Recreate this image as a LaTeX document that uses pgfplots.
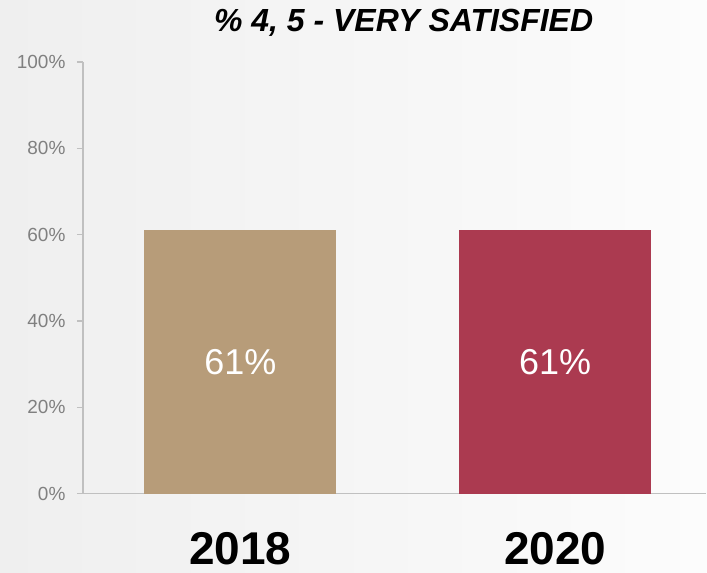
\documentclass[border=0pt]{standalone}
\usepackage{pgfplots}
\pgfplotsset{compat=1.18}
\usepackage{fontspec}
\setmainfont{Liberation Sans}
\definecolor{tanbar}{HTML}{B79C79}
\definecolor{redbar}{HTML}{AB3A50}
\definecolor{axgray}{HTML}{C0C0C0}
\definecolor{tickgray}{HTML}{808080}
\definecolor{bgleft}{HTML}{EFEFEF}
\definecolor{bgright}{HTML}{FCFCFC}

\begin{document}
\begin{tikzpicture}
\shade[left color=bgleft, right color=bgright] (0pt,0pt) rectangle (707pt,573pt);
\node[anchor=base, inner sep=0pt, font=\fontsize{32}{36}\selectfont\bfseries\itshape]
  at (404pt,541pt) {\% 4, 5 - VERY SATISFIED};
\begin{axis}[
	at={(83pt,79pt)}, anchor=south west,
	scale only axis, width=624pt, height=432pt,
	xmin=-0.5, xmax=1.48, ymin=0, ymax=100,
	axis x line=bottom, axis y line=left,
	axis line style={axgray, line width=1.3pt, -},
	ybar, bar width=0.61, bar shift=0pt,
	xtick={0,1}, xticklabels={2018,2020},
	major x tick style={draw=none},
	xticklabel style={anchor=center, inner sep=0pt, yshift=-49pt, text=black,
		font=\fontsize{46}{50}\selectfont\bfseries},
	ytick={0,20,...,100},
	yticklabel={\pgfmathprintnumber{\tick}\%},
	yticklabel style={text=tickgray, xshift=-8pt, font=\fontsize{19}{21}\selectfont},
	/pgf/number format/assume math mode=true,
	tick align=outside, major tick length=6pt,
	major y tick style={axgray, line width=1.3pt},
	nodes near coords={\pgfmathprintnumber{\pgfplotspointmeta}\%},
	every node near coord/.append style={anchor=center, yshift=-131.8pt,
		text=white, font=\fontsize{36}{40}\selectfont},
	]
\addplot[fill=tanbar, draw=none] coordinates {(0,61)};
\addplot[fill=redbar, draw=none] coordinates {(1,61)};
\end{axis}
\end{tikzpicture}
\end{document}
